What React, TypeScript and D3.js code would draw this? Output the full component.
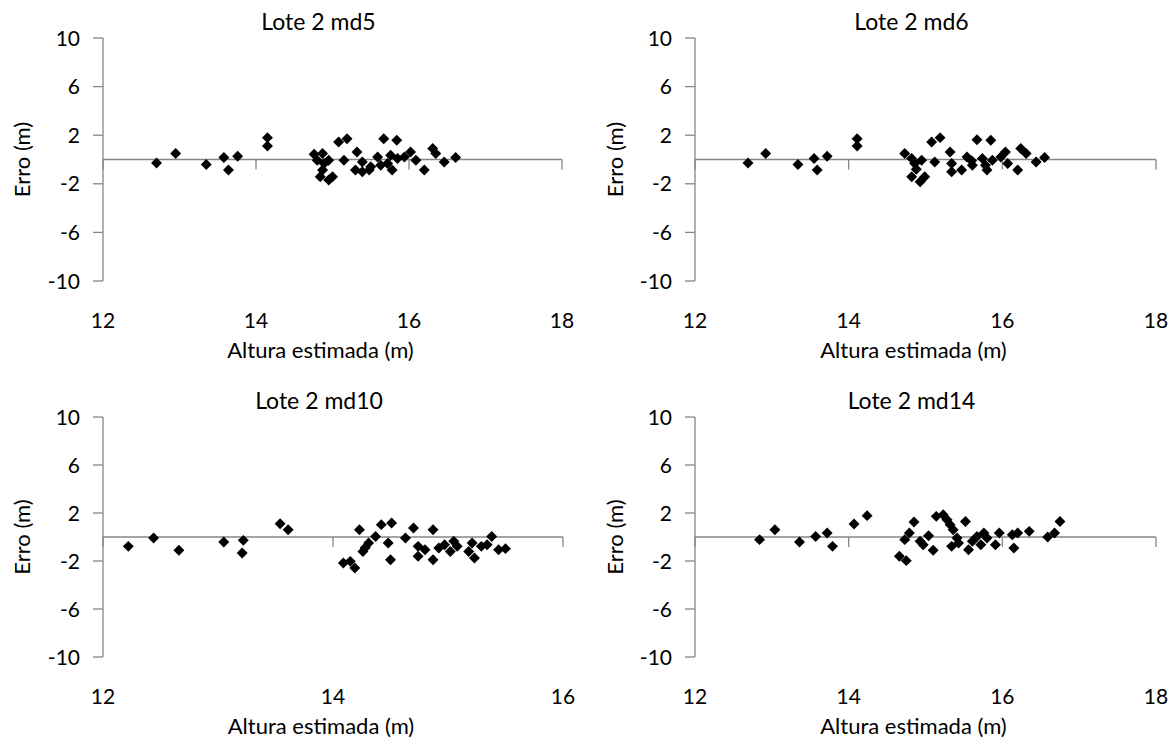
import React from 'react';
import * as d3 from 'd3';

// Lote 2 md5
const md5X = [12.70, 12.95, 13.35, 13.58, 13.64, 13.76, 14.15, 14.15, 14.76, 14.87, 14.80, 14.89, 14.95, 14.84, 14.95, 15.00, 14.87, 15.08, 15.19, 15.15, 15.32, 15.39, 15.39, 15.50, 15.59, 15.63, 15.67, 15.76, 15.78, 15.84, 15.85, 15.72, 15.94, 16.02, 16.09, 16.20, 16.31, 16.35, 16.46, 16.61, 15.48, 15.30];
const md5Y = [-0.28, 0.49, -0.41, 0.16, -0.87, 0.27, 1.80, 1.11, 0.43, 0.49, -0.06, -0.33, -0.06, -1.42, -1.69, -1.42, -0.87, 1.44, 1.71, -0.06, 0.62, -0.20, -1.00, -0.60, 0.21, -0.47, 1.71, 0.35, -0.87, 1.58, 0.08, -0.33, 0.21, 0.62, -0.06, -0.87, 0.90, 0.49, -0.20, 0.16, -0.87, -0.87];

// Lote 2 md6
const md6X = [12.69, 12.92, 13.34, 13.55, 13.59, 13.72, 14.11, 14.11, 14.73, 14.82, 14.86, 14.95, 14.82, 14.93, 14.99, 15.08, 15.19, 15.12, 15.32, 15.34, 15.34, 15.47, 15.54, 15.61, 15.67, 15.74, 15.80, 15.85, 15.78, 15.87, 15.98, 16.04, 16.07, 16.20, 16.24, 16.31, 16.44, 16.55, 14.88, 15.60];
const md6Y = [-0.28, 0.49, -0.41, 0.08, -0.87, 0.27, 1.71, 1.11, 0.49, 0.08, -0.33, -0.06, -1.42, -1.83, -1.42, 1.44, 1.80, -0.20, 0.62, -0.33, -1.00, -0.87, 0.21, -0.47, 1.63, 0.08, -0.87, 1.58, -0.47, -0.06, 0.21, 0.62, -0.33, -0.87, 0.90, 0.49, -0.20, 0.16, -0.80, -0.10];

// Lote 2 md10
const md10X = [12.22, 12.44, 12.66, 13.05, 13.22, 13.21, 13.54, 13.61, 14.09, 14.19, 14.15, 14.23, 14.26, 14.31, 14.37, 14.42, 14.51, 14.48, 14.50, 14.63, 14.70, 14.74, 14.74, 14.80, 14.87, 14.87, 14.92, 14.97, 15.05, 15.02, 15.08, 15.18, 15.21, 15.23, 15.29, 15.38, 15.34, 15.44, 15.50, 14.28];
const md10Y = [-0.78, -0.08, -1.11, -0.42, -0.28, -1.33, 1.11, 0.61, -2.17, -2.58, -2.03, 0.61, -1.20, -0.50, 0.05, 1.03, 1.17, -0.50, -1.89, -0.08, 0.75, -0.78, -1.61, -1.06, 0.61, -1.89, -0.92, -0.64, -0.36, -1.20, -0.78, -1.20, -0.50, -1.75, -0.78, 0.05, -0.64, -1.06, -0.97, -0.90];

// Lote 2 md14
const md14X = [12.84, 13.04, 13.36, 13.57, 13.72, 13.79, 14.07, 14.24, 14.66, 14.75, 14.73, 14.79, 14.85, 14.93, 14.97, 15.04, 15.10, 15.14, 15.23, 15.28, 15.32, 15.36, 15.34, 15.41, 15.43, 15.52, 15.56, 15.61, 15.67, 15.72, 15.76, 15.80, 15.91, 15.96, 16.13, 16.15, 16.20, 16.35, 16.59, 16.68, 16.75];
const md14Y = [-0.22, 0.61, -0.42, 0.05, 0.33, -0.78, 1.08, 1.78, -1.61, -1.97, -0.22, 0.33, 1.25, -0.36, -0.64, 0.11, -1.11, 1.72, 1.86, 1.44, 1.03, 0.61, -0.78, -0.08, -0.50, 1.30, -1.06, -0.36, 0.05, -0.64, 0.33, -0.08, -0.64, 0.33, 0.19, -0.92, 0.33, 0.47, 0.00, 0.33, 1.30];

const yTicks = [10, 6, 2, -2, -6, -10];
const wideXTicks = [12, 14, 16, 18];
const narrowXTicks = [12, 14, 16];

const FONT = 'Lato, "Open Sans", sans-serif';
const AXIS = '#868686';

const diamond = d3.symbol().type(d3.symbolSquare).size(60)();

function Panel(props) {
  const { left, right, top, bottom, title, xs, ys, xTicks, ylabelX } = props;
  const x = d3.scaleLinear().domain([xTicks[0], xTicks[xTicks.length - 1]]).range([left, right]);
  const y = d3.scaleLinear().domain([-10, 10]).range([bottom, top]);
  const y0 = y(0);
  const pts = xs.map((v, i) => [v, ys[i]]);
  return (
    <g fontFamily={FONT}>
      <text x={(left + right) / 2 - 14} y={top - 8} fontSize={23} textAnchor="middle" fill="#000">{title}</text>
      {/* y axis */}
      <line x1={left} x2={left} y1={y(10)} y2={y(-10)} stroke={AXIS} strokeWidth={1.3} />
      {yTicks.map(t => (
        <g key={t}>
          <line x1={left - 10} x2={left} y1={y(t)} y2={y(t)} stroke={AXIS} strokeWidth={1.3} />
          <text x={left - 23} y={y(t) + 7.5} fontSize={21} textAnchor="end" fill="#000">{t}</text>
        </g>
      ))}
      {/* x axis at zero */}
      <line x1={left} x2={right} y1={y0} y2={y0} stroke={AXIS} strokeWidth={1.3} />
      {xTicks.map(t => (
        <g key={t}>
          <line x1={x(t)} x2={x(t)} y1={y0} y2={y0 + 10} stroke={AXIS} strokeWidth={1.3} />
          <text x={x(t)} y={bottom + 47} fontSize={21} textAnchor="middle" fill="#000">{t}</text>
        </g>
      ))}
      <text x={(left + right) / 2 - 12} y={bottom + 77} fontSize={22} textAnchor="middle" fill="#000">Altura estimada (m)</text>
      <text transform={`translate(${ylabelX},${y0}) rotate(-90)`} fontSize={22} textAnchor="middle" dy="0.35em" fill="#000">Erro (m)</text>
      {pts.map((p, i) => (
        <path key={i} d={diamond} transform={`translate(${x(p[0])},${y(p[1])}) rotate(45)`} fill="#000" />
      ))}
    </g>
  );
}

export default function App() {
  return (
    <svg width={1173} height={743} style={{ position: 'absolute', left: 0, top: 0, background: '#fff' }}>
      <rect width={1173} height={743} fill="#fff" />
      <Panel left={103} right={562} top={38} bottom={281} title="Lote 2 md5" xs={md5X} ys={md5Y} xTicks={wideXTicks} ylabelX={22} />
      <Panel left={695} right={1156} top={38} bottom={281} title="Lote 2 md6" xs={md6X} ys={md6Y} xTicks={wideXTicks} ylabelX={615} />
      <Panel left={103} right={563} top={417} bottom={657} title="Lote 2 md10" xs={md10X} ys={md10Y} xTicks={narrowXTicks} ylabelX={22} />
      <Panel left={695} right={1156} top={417} bottom={657} title="Lote 2 md14" xs={md14X} ys={md14Y} xTicks={wideXTicks} ylabelX={615} />
    </svg>
  );
}
